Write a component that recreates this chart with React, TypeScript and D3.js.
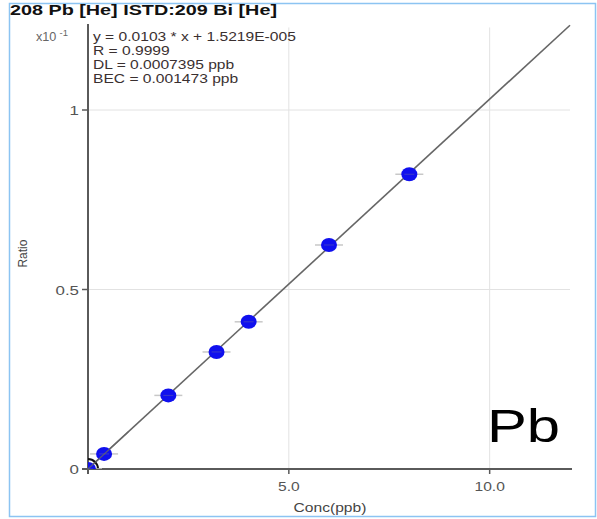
import React from "react";
import * as d3 from "d3";

const conc = [0, 0.4, 2, 3.2, 4, 6, 8];
const ratio = [0.0, 0.042, 0.205, 0.326, 0.41, 0.624, 0.821];
const xTicks = [5, 10];
const xTickLabels = ["5.0", "10.0"];
const yTicks = [0, 0.5, 1];
const yTickLabels = ["0", "0.5", "1"];
const slope = 0.0103 * 10;
const intercept = 1.5219e-5 * 10;
const infoLines = [
  "y = 0.0103 * x  + 1.5219E-005",
  "R =  0.9999",
  "DL = 0.0007395 ppb",
  "BEC = 0.001473 ppb",
];

const SX = 1.3;

function T(props: { x: number; y: number; anchor?: string; size: number; fill: string; weight?: string; children: React.ReactNode }) {
  return (
    <text
      transform={`translate(${props.x},${props.y}) scale(${SX},1)`}
      textAnchor={props.anchor || "start"}
      fontSize={props.size}
      fill={props.fill}
      fontWeight={props.weight}
    >
      {props.children}
    </text>
  );
}

export default function App() {
  const W = 597, H = 519;
  const x = d3.scaleLinear().domain([0, 12]).range([88, 570]);
  const y = d3.scaleLinear().domain([0, 1]).range([469, 110]);
  const font = "'Liberation Sans', Arial, sans-serif";
  const axisColor = "#5a5a5a";
  const line = d3.line<number>().x((v) => x(v)).y((v) => y(slope * v + intercept));
  const arc = d3.arc()({ innerRadius: 9, outerRadius: 11, startAngle: 0, endAngle: Math.PI / 2 }) as string;
  return (
    <svg width={W} height={H} style={{ position: "absolute", left: 0, top: 0 }} fontFamily={font}>
      <rect x={0} y={0} width={W} height={H} fill="#fff" />
      <rect x={9.5} y={3.5} width={586} height={513} fill="none" stroke="#8cc4f2" strokeWidth={1.5} />
      {/* grid */}
      {xTicks.map((t) => (
        <line key={"gx" + t} x1={x(t)} x2={x(t)} y1={y(1.23)} y2={y(0)} stroke="#e2e2e2" strokeWidth={1} />
      ))}
      {yTicks.filter((t) => t > 0).map((t) => (
        <line key={"gy" + t} x1={x(0)} x2={x(12)} y1={y(t)} y2={y(t)} stroke="#e2e2e2" strokeWidth={1} />
      ))}
      {/* axes */}
      <line x1={x(0)} x2={x(0)} y1={24} y2={474} stroke={axisColor} strokeWidth={2} />
      <line x1={x(0) - 6} x2={x(12.05)} y1={y(0)} y2={y(0)} stroke={axisColor} strokeWidth={2} />
      {yTicks.map((t, i) => (
        <g key={"yt" + t}>
          <line x1={x(0) - 6} x2={x(0)} y1={y(t)} y2={y(t)} stroke={axisColor} strokeWidth={1.5} />
          <T x={x(0) - 9} y={y(t) + 5} anchor="end" size={13} fill="#555">
            {yTickLabels[i]}
          </T>
        </g>
      ))}
      {xTicks.map((t, i) => (
        <g key={"xt" + t}>
          <line x1={x(t)} x2={x(t)} y1={y(0)} y2={y(0) + 5} stroke={axisColor} strokeWidth={1.5} />
          <T x={x(t)} y={y(0) + 22} anchor="middle" size={12} fill="#555">
            {xTickLabels[i]}
          </T>
        </g>
      ))}
      {/* regression line */}
      <path d={line([0, 12]) as string} fill="none" stroke="#666" strokeWidth={1.6} />
      {/* points */}
      <path d={arc} transform={`translate(${x(0)},${y(0)})`} fill="#111" />
      <clipPath id="plotClip">
        <rect x={x(0)} y={0} width={500} height={y(0)} />
      </clipPath>
      <g clipPath="url(#plotClip)">
        {conc.map((c, i) => (
          <g key={"p" + i}>
            <line x1={x(c) - 14} x2={x(c) + 14} y1={y(ratio[i])} y2={y(ratio[i])} stroke="#c8c8c8" strokeWidth={1.5} />
            <ellipse cx={x(c)} cy={y(ratio[i])} rx={8} ry={7} fill="#1010ee" />
            <line x1={x(c) - 5} x2={x(c) + 5} y1={y(ratio[i])} y2={y(ratio[i])} stroke="#5a5ab0" strokeWidth={1} opacity={0.6} />
          </g>
        ))}
      </g>
      <path d={line([0, 1]) as string} fill="none" stroke="#666" strokeWidth={1.2} opacity={0.8} />
      {/* texts */}
      <text x={10} y={15} fontSize={14} fontWeight="bold" fill="#111" textLength={267} lengthAdjust="spacingAndGlyphs">
        208 Pb [He] ISTD:209 Bi [He]
      </text>
      <text x={36} y={41} fontSize={12} fill="#666" textLength={32} lengthAdjust="spacingAndGlyphs">
        x10
        <tspan dx={3} dy={-5} fontSize={9}>-1</tspan>
      </text>
      {infoLines.map((s, i) => (
        <T key={"info" + i} x={93} y={41 + i * 14} size={12} fill="#3a3030">
          {s}
        </T>
      ))}
      <text transform={`translate(27,${y(0.6)}) rotate(-90)`} textAnchor="middle" fontSize={12} fill="#444">
        Ratio
      </text>
      <T x={330} y={512} anchor="middle" size={12} fill="#444">
        Conc(ppb)
      </T>
      <T x={487} y={442} size={46} fill="#000">
        Pb
      </T>
    </svg>
  );
}
